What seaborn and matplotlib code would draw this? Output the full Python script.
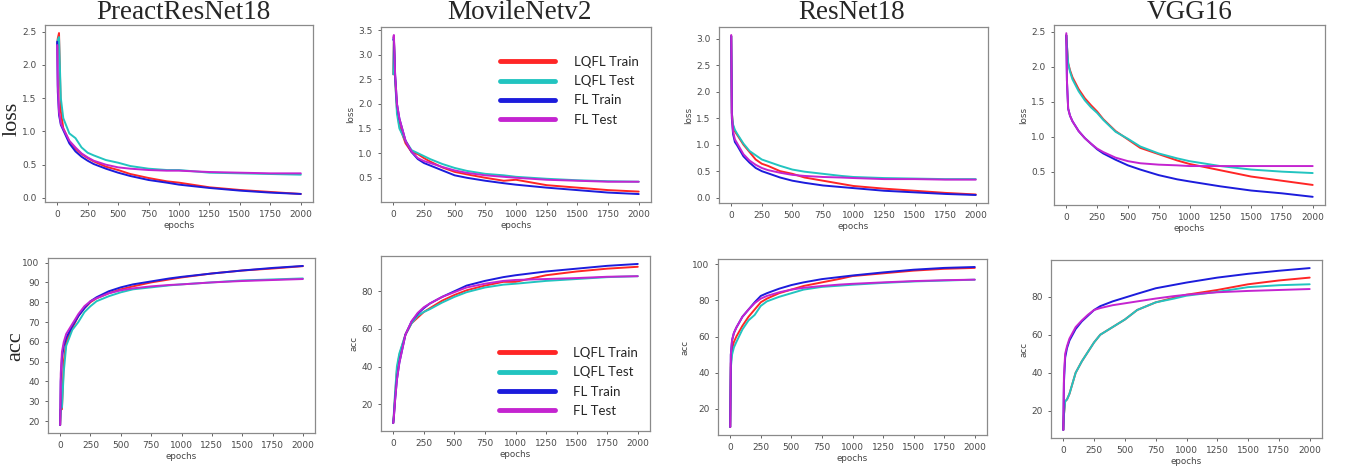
import numpy as np
import pandas as pd
import matplotlib
matplotlib.use("Agg")
import matplotlib.pyplot as plt
import seaborn as sns
from matplotlib.ticker import MultipleLocator

EPOCHS = [0, 5, 15, 30, 50, 100, 150, 200, 250, 300, 400, 500, 600, 750, 900, 1000, 1250, 1500, 1750, 2000]
SERIES = ["LQFL Train", "LQFL Test", "FL Train", "FL Test"]
MODELS = ["PreactResNet18", "MovileNetv2", "ResNet18", "VGG16"]

# loss, PreactResNet18
PRN_LOSS_LQFL_TRAIN = [2.30, 2.40, 2.48, 1.30, 1.05, 0.85, 0.74, 0.66, 0.60, 0.55, 0.47, 0.42, 0.36, 0.30, 0.25, 0.23, 0.16, 0.12, 0.09, 0.06]
PRN_LOSS_LQFL_TEST = [2.30, 2.38, 2.42, 1.50, 1.20, 0.97, 0.90, 0.76, 0.68, 0.64, 0.57, 0.53, 0.48, 0.44, 0.42, 0.42, 0.38, 0.37, 0.36, 0.35]
PRN_LOSS_FL_TRAIN = [2.35, 1.60, 1.25, 1.10, 1.02, 0.82, 0.70, 0.62, 0.56, 0.51, 0.44, 0.38, 0.33, 0.27, 0.23, 0.20, 0.15, 0.11, 0.08, 0.06]
PRN_LOSS_FL_TEST = [2.30, 1.70, 1.30, 1.12, 1.04, 0.86, 0.76, 0.67, 0.61, 0.56, 0.50, 0.46, 0.44, 0.42, 0.41, 0.41, 0.39, 0.38, 0.37, 0.37]

# loss, MovileNetv2
MBN_LOSS_LQFL_TRAIN = [2.60, 3.35, 2.50, 1.90, 1.55, 1.20, 1.02, 0.98, 0.90, 0.83, 0.71, 0.62, 0.57, 0.50, 0.44, 0.46, 0.35, 0.30, 0.25, 0.22]
MBN_LOSS_LQFL_TEST = [2.60, 3.30, 2.50, 1.80, 1.50, 1.25, 1.06, 1.00, 0.94, 0.88, 0.78, 0.70, 0.64, 0.58, 0.55, 0.52, 0.48, 0.45, 0.43, 0.42]
MBN_LOSS_FL_TRAIN = [3.30, 3.35, 2.60, 2.00, 1.70, 1.25, 1.02, 0.88, 0.80, 0.75, 0.65, 0.55, 0.50, 0.44, 0.39, 0.36, 0.30, 0.25, 0.20, 0.17]
MBN_LOSS_FL_TEST = [3.35, 3.40, 2.60, 2.00, 1.70, 1.25, 1.03, 0.90, 0.84, 0.80, 0.72, 0.65, 0.60, 0.55, 0.52, 0.50, 0.46, 0.44, 0.42, 0.42]

# loss, ResNet18
RN_LOSS_LQFL_TRAIN = [3.05, 1.60, 1.35, 1.25, 1.18, 1.00, 0.86, 0.72, 0.64, 0.60, 0.50, 0.45, 0.38, 0.32, 0.26, 0.22, 0.17, 0.13, 0.09, 0.06]
RN_LOSS_LQFL_TEST = [3.05, 1.60, 1.38, 1.28, 1.20, 1.02, 0.88, 0.80, 0.72, 0.68, 0.60, 0.53, 0.49, 0.45, 0.41, 0.39, 0.37, 0.36, 0.35, 0.35]
RN_LOSS_FL_TRAIN = [3.05, 1.50, 1.20, 1.05, 0.98, 0.78, 0.66, 0.56, 0.50, 0.46, 0.38, 0.32, 0.28, 0.23, 0.20, 0.18, 0.13, 0.10, 0.07, 0.05]
RN_LOSS_FL_TEST = [3.07, 1.55, 1.25, 1.10, 1.02, 0.82, 0.70, 0.62, 0.56, 0.52, 0.47, 0.43, 0.41, 0.39, 0.38, 0.37, 0.35, 0.35, 0.34, 0.34]

# loss, VGG16
VGG_LOSS_LQFL_TRAIN = [2.45, 2.30, 2.05, 1.95, 1.85, 1.68, 1.55, 1.45, 1.36, 1.25, 1.08, 0.96, 0.84, 0.75, 0.66, 0.61, 0.52, 0.43, 0.37, 0.31]
VGG_LOSS_LQFL_TEST = [2.45, 2.30, 2.05, 1.93, 1.82, 1.65, 1.52, 1.42, 1.34, 1.24, 1.07, 0.97, 0.86, 0.76, 0.69, 0.65, 0.58, 0.53, 0.50, 0.48]
VGG_LOSS_FL_TRAIN = [2.45, 1.80, 1.40, 1.30, 1.22, 1.08, 0.98, 0.90, 0.82, 0.76, 0.67, 0.59, 0.53, 0.45, 0.39, 0.36, 0.29, 0.23, 0.19, 0.14]
VGG_LOSS_FL_TEST = [2.48, 1.80, 1.40, 1.30, 1.22, 1.08, 0.98, 0.90, 0.83, 0.78, 0.70, 0.65, 0.62, 0.60, 0.59, 0.58, 0.58, 0.58, 0.58, 0.58]

# acc, PreactResNet18
PRN_ACC_LQFL_TRAIN = [18, 26, 26, 50, 60, 67, 73, 77, 80, 82, 84.5, 86.5, 88, 90, 91.5, 92.5, 94.5, 96, 97, 98.2]
PRN_ACC_LQFL_TEST = [18, 26, 27, 45, 58, 66, 70, 75, 78, 80.5, 83, 85, 86.5, 87.5, 88.5, 89, 90, 91, 91.5, 92]
PRN_ACC_FL_TRAIN = [18, 40, 52, 58, 62, 68, 73, 77, 80.5, 82.5, 85.5, 87.5, 89, 90.5, 92, 92.8, 94.5, 96, 97.3, 98.3]
PRN_ACC_FL_TEST = [18, 44, 55, 60, 64, 69, 74, 78, 80.5, 82, 84.5, 86, 87, 88, 88.7, 89, 90, 90.7, 91.2, 91.7]

# acc, MovileNetv2
MBN_ACC_LQFL_TRAIN = [10, 14, 24, 38, 46, 57, 63, 66, 69, 71, 75, 78, 80.5, 83, 85, 85, 88.5, 90.5, 92, 93]
MBN_ACC_LQFL_TEST = [10, 15, 26, 40, 47, 57, 63, 67, 69, 70.5, 74, 77, 79.5, 82, 83.5, 84, 85.5, 86.5, 87.5, 88]
MBN_ACC_FL_TRAIN = [10, 13, 22, 33, 42, 57, 64, 68, 71, 73.5, 77, 80, 83, 85.5, 87.5, 88.5, 90.5, 92, 93.5, 94.5]
MBN_ACC_FL_TEST = [10, 13, 22, 33, 42, 57, 64, 68.5, 71.5, 73.5, 77, 79.5, 82, 84, 85.5, 86, 86.5, 87, 87.7, 88]

# acc, ResNet18
RN_ACC_LQFL_TRAIN = [10, 45, 53, 57, 60, 66, 71, 75, 79, 81, 84, 86, 88, 90, 92, 93.5, 95, 96.5, 97.5, 98]
RN_ACC_LQFL_TEST = [10, 43, 50, 54, 57, 64, 69, 72, 77, 79.5, 82, 84, 86, 87.5, 88.2, 88.7, 89.7, 90.5, 91, 91.5]
RN_ACC_FL_TRAIN = [10, 50, 58, 62, 65, 71, 75, 79, 82.5, 84, 86.5, 88.5, 90, 91.8, 93, 93.8, 95.5, 97, 98, 98.5]
RN_ACC_FL_TEST = [10, 50, 58, 62, 65, 71, 75, 78.5, 81, 82.5, 84.5, 86, 87, 88, 88.8, 89.2, 90, 90.7, 91.2, 91.5]

# acc, VGG16
VGG_ACC_LQFL_TRAIN = [10, 18, 25, 26, 29, 40, 46, 51, 56, 60, 64, 68, 73, 77, 79.5, 81, 83.5, 86.5, 88.5, 90]
VGG_ACC_LQFL_TEST = [10, 18, 25, 26, 29, 40, 46, 51, 56, 60, 64, 68, 73, 77, 79, 80.5, 82.5, 85, 86, 86.5]
VGG_ACC_FL_TRAIN = [10, 35, 48, 53, 57, 63, 67, 70, 73, 75, 77.5, 79.5, 81.5, 84.4, 86.2, 87.4, 90, 92, 93.6, 95]
VGG_ACC_FL_TEST = [10, 38, 50, 54, 58, 64, 67.5, 70.5, 73, 74, 75.5, 76.5, 77.5, 79, 80.3, 81, 82.3, 83, 83.5, 84]

COLORS = {"LQFL Train": "#ff2626", "LQFL Test": "#22c4c0",
          "FL Train": "#1c1cdc", "FL Test": "#c424d0"}


def make_frame(curves):
    rows = []
    for name, values in zip(SERIES, curves):
        for ep, v in zip(EPOCHS, values):
            rows.append({"epochs": ep, "value": v, "series": name})
    return pd.DataFrame(rows)


sns.set_style("ticks", {"axes.edgecolor": "#8a8a8a", "xtick.color": "#555555",
                        "ytick.color": "#555555"})

panels = [
    ([PRN_LOSS_LQFL_TRAIN, PRN_LOSS_LQFL_TEST, PRN_LOSS_FL_TRAIN, PRN_LOSS_FL_TEST], "loss", 0.5),
    ([MBN_LOSS_LQFL_TRAIN, MBN_LOSS_LQFL_TEST, MBN_LOSS_FL_TRAIN, MBN_LOSS_FL_TEST], "loss", 0.5),
    ([RN_LOSS_LQFL_TRAIN, RN_LOSS_LQFL_TEST, RN_LOSS_FL_TRAIN, RN_LOSS_FL_TEST], "loss", 0.5),
    ([VGG_LOSS_LQFL_TRAIN, VGG_LOSS_LQFL_TEST, VGG_LOSS_FL_TRAIN, VGG_LOSS_FL_TEST], "loss", 0.5),
    ([PRN_ACC_LQFL_TRAIN, PRN_ACC_LQFL_TEST, PRN_ACC_FL_TRAIN, PRN_ACC_FL_TEST], "acc", 10),
    ([MBN_ACC_LQFL_TRAIN, MBN_ACC_LQFL_TEST, MBN_ACC_FL_TRAIN, MBN_ACC_FL_TEST], "acc", 20),
    ([RN_ACC_LQFL_TRAIN, RN_ACC_LQFL_TEST, RN_ACC_FL_TRAIN, RN_ACC_FL_TEST], "acc", 20),
    ([VGG_ACC_LQFL_TRAIN, VGG_ACC_LQFL_TEST, VGG_ACC_FL_TRAIN, VGG_ACC_FL_TEST], "acc", 20),
]

# axes boxes in pixels (left, top, right, bottom) measured on the 1346x470 reference
W, H = 1346, 470
boxes = [(45, 25, 313, 202), (381, 27, 651, 202), (719, 27, 988, 203), (1054, 25, 1325, 205),
         (48, 258, 315, 433), (381, 256, 650, 431), (718, 259, 987, 435), (1051, 260, 1322, 438)]

fig = plt.figure(figsize=(W / 100, H / 100), dpi=100)

for i, ((curves, metric, ystep), (l, t, r, b)) in enumerate(zip(panels, boxes)):
    ax = fig.add_axes([l / W, 1 - b / H, (r - l) / W, (b - t) / H])
    df = make_frame(curves)
    show_legend = i in (1, 5)
    sns.lineplot(data=df, x="epochs", y="value", hue="series", hue_order=SERIES,
                 palette=COLORS, linewidth=1.4, errorbar=None, legend=show_legend, ax=ax)
    ax.xaxis.set_major_locator(MultipleLocator(250))
    ax.yaxis.set_major_locator(MultipleLocator(ystep))
    if metric == "loss":
        ax.yaxis.set_major_formatter(plt.FormatStrFormatter("%.1f"))
    ax.tick_params(labelsize=6.5, length=2.5, width=0.6, colors="#4a4a4a")
    for sp in ax.spines.values():
        sp.set_visible(True)
        sp.set_linewidth(0.9)
    ax.set_xlabel("epochs", fontsize=6.3, color="#444444", labelpad=1)
    if i % 4 == 0:
        ax.set_ylabel("")
    else:
        ax.set_ylabel(metric, fontsize=6.3, color="#444444", labelpad=2)

    if show_legend:
        anchor = (0.42, 0.865) if i == 1 else (0.42, 0.51)
        sns.move_legend(ax, loc="upper left", bbox_to_anchor=anchor, frameon=False,
                        title=None, handlelength=4.2, handletextpad=1.4,
                        labelspacing=0.55, borderaxespad=0,
                        prop={"family": "Lato", "size": 9.5})
        for line in ax.get_legend().legend_handles:
            line.set_linewidth(3.5)

# column titles
title_x = [183, 520, 852, 1190]
for name, x in zip(MODELS, title_x):
    fig.text(x / W, 1 - 12.5 / H, name, ha="center", va="center",
             family="Liberation Serif", fontsize=19.5)

# row labels
fig.text(12 / W, 1 - 119 / H, "loss", rotation=90, ha="center", va="center",
         family="Liberation Serif", fontsize=16)
fig.text(16 / W, 1 - 346 / H, "acc", rotation=90, ha="center", va="center",
         family="Liberation Serif", fontsize=16)

fig.savefig("out.png", dpi=100)
